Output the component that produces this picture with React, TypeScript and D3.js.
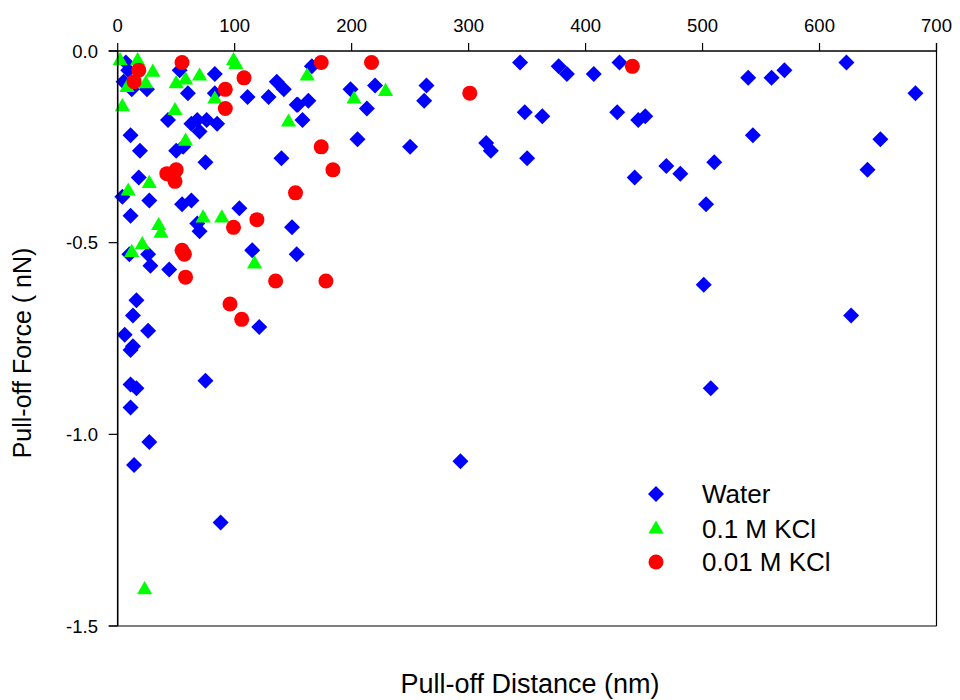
import React from "react";
import * as d3 from "d3";

const xTicks = [0, 100, 200, 300, 400, 500, 600, 700];
const yTicks = [0, -0.5, -1.0, -1.5];
const yTickLabels = ["0.0", "-0.5", "-1.0", "-1.5"];
const seriesNames = ["Water", "0.1 M KCl", "0.01 M KCl"];

const water: [number, number][] = [
  [7, -0.03], [9, -0.05], [5, -0.08], [12, -0.10], [25, -0.10], [53, -0.05], [60, -0.11],
  [83, -0.06], [83, -0.11], [111, -0.12], [129, -0.12], [136, -0.08], [142, -0.10], [153, -0.14],
  [43, -0.18], [63, -0.19], [68, -0.18], [70, -0.21], [76, -0.18], [85, -0.19], [11, -0.22],
  [19, -0.26], [50, -0.26], [56, -0.25], [75, -0.29], [140, -0.28], [18, -0.33], [4, -0.38],
  [27, -0.39], [55, -0.40], [63, -0.39], [104, -0.41], [11, -0.43], [68, -0.45], [70, -0.47],
  [149, -0.46], [10, -0.53], [26, -0.53], [28, -0.56], [44, -0.57], [115, -0.52], [153, -0.53],
  [16, -0.65], [13, -0.69], [26, -0.73], [6, -0.74], [13, -0.77], [11, -0.78], [121, -0.72],
  [75, -0.86], [11, -0.87], [16, -0.88], [11, -0.93], [27, -1.02], [14, -1.08], [88, -1.23],
  [293, -1.07], [166, -0.04], [199, -0.10], [220, -0.09], [264, -0.09], [262, -0.13], [213, -0.15],
  [154, -0.14], [163, -0.13], [158, -0.18], [205, -0.23], [250, -0.25], [315, -0.24], [319, -0.26],
  [344, -0.03], [377, -0.04], [384, -0.06], [407, -0.06], [429, -0.03], [348, -0.16], [363, -0.17],
  [427, -0.16], [445, -0.18], [451, -0.17], [350, -0.28], [469, -0.30], [481, -0.32], [442, -0.33],
  [503, -0.40], [501, -0.61], [507, -0.88], [539, -0.07], [559, -0.07], [570, -0.05], [623, -0.03],
  [682, -0.11], [543, -0.22], [652, -0.23], [510, -0.29], [641, -0.31], [627, -0.69],
];

const kcl01: [number, number][] = [
  [2, -0.02], [17, -0.02], [30, -0.05], [8, -0.09], [24, -0.08], [4, -0.14], [58, -0.07],
  [50, -0.08], [70, -0.06], [99, -0.02], [101, -0.03], [83, -0.12], [49, -0.15], [146, -0.18],
  [58, -0.23], [27, -0.34], [9, -0.36], [73, -0.43], [89, -0.43], [35, -0.45], [37, -0.47],
  [12, -0.52], [21, -0.50], [117, -0.55], [23, -1.40], [162, -0.06], [202, -0.12], [229, -0.10],
];

const kcl001: [number, number][] = [
  [18, -0.05], [14, -0.08], [55, -0.03], [108, -0.07], [92, -0.10], [92, -0.15], [174, -0.03],
  [217, -0.03], [301, -0.11], [440, -0.04], [174, -0.25], [184, -0.31], [152, -0.37], [42, -0.32],
  [50, -0.31], [49, -0.34], [99, -0.46], [119, -0.44], [55, -0.52], [57, -0.53], [58, -0.59],
  [135, -0.60], [96, -0.66], [106, -0.70], [178, -0.60],
];

const FONT = "'Liberation Sans', Arial, sans-serif";

function diamondPath(cx: number, cy: number, r = 8) {
  const p = d3.path();
  p.moveTo(cx, cy - r);
  p.lineTo(cx + r, cy);
  p.lineTo(cx, cy + r);
  p.lineTo(cx - r, cy);
  p.closePath();
  return p.toString();
}

function trianglePath(cx: number, cy: number, hw = 7.6, hh = 6.6) {
  const p = d3.path();
  p.moveTo(cx, cy - hh);
  p.lineTo(cx + hw, cy + hh);
  p.lineTo(cx - hw, cy + hh);
  p.closePath();
  return p.toString();
}

export default function App() {
  const x = d3.scaleLinear().domain([0, 700]).range([117.7, 936.5]);
  const y = d3.scaleLinear().domain([0, -1.5]).range([51, 626]);
  const [x0, x1] = x.range();
  const [y0, y1] = y.range();

  return (
    <svg
      width={960}
      height={700}
      style={{ position: "absolute", left: 0, top: 0, background: "#fff" }}
      fontFamily={FONT}
    >
      <rect x={0} y={0} width={960} height={700} fill="#fff" />

      {/* points */}
      <g>
        {water.map((d, i) => (
          <path key={"w" + i} d={diamondPath(x(d[0]), y(d[1]))} fill="#0000ff" />
        ))}
        {kcl01.map((d, i) => (
          <path key={"g" + i} d={trianglePath(x(d[0]), y(d[1]))} fill="#00ff00" />
        ))}
        {kcl001.map((d, i) => (
          <circle key={"r" + i} cx={x(d[0])} cy={y(d[1])} r={7.5} fill="#ff0000" />
        ))}
      </g>

      {/* frame */}
      <line x1={x0} x2={x0} y1={y0} y2={y1} stroke="#000" strokeWidth={1.6} />
      <line x1={x0 - 9} x2={x1} y1={y0} y2={y0} stroke="#000" strokeWidth={1.6} />
      <line x1={x1} x2={x1} y1={y0 - 8} y2={y1} stroke="#000" strokeWidth={1.2} />
      <line x1={x0 - 9} x2={x1} y1={y1} y2={y1} stroke="#000" strokeWidth={1.2} />

      {/* x ticks (top) */}
      {xTicks.map((t) => (
        <g key={"xt" + t}>
          <line x1={x(t)} x2={x(t)} y1={y0} y2={y0 - 8} stroke="#000" strokeWidth={1.2} />
          <text x={x(t)} y={32} textAnchor="middle" fontSize={18.5} fill="#000">
            {t}
          </text>
        </g>
      ))}

      {/* y ticks (left) */}
      {yTicks.map((t, i) => (
        <g key={"yt" + i}>
          <line x1={x0} x2={x0 - 9} y1={y(t)} y2={y(t)} stroke="#000" strokeWidth={1.2} />
          <text x={98} y={y(t) + 6.6} textAnchor="end" fontSize={18.5} fill="#000">
            {yTickLabels[i]}
          </text>
        </g>
      ))}

      {/* axis titles */}
      <text x={530} y={693} textAnchor="middle" fontSize={27} fill="#000">
        Pull-off Distance (nm)
      </text>
      <text
        transform="translate(31,353) rotate(-90)"
        textAnchor="middle"
        fontSize={25}
        fill="#000"
      >
        Pull-off Force ( nN)
      </text>

      {/* legend */}
      <g>
        <path d={diamondPath(656, 494)} fill="#0000ff" />
        <path d={trianglePath(656, 527)} fill="#00ff00" />
        <circle cx={656} cy={562} r={7.5} fill="#ff0000" />
        <text x={702} y={503} fontSize={26} fill="#000">{seriesNames[0]}</text>
        <text x={702} y={538} fontSize={26} fill="#000">{seriesNames[1]}</text>
        <text x={702} y={571} fontSize={26} fill="#000">{seriesNames[2]}</text>
      </g>
    </svg>
  );
}
